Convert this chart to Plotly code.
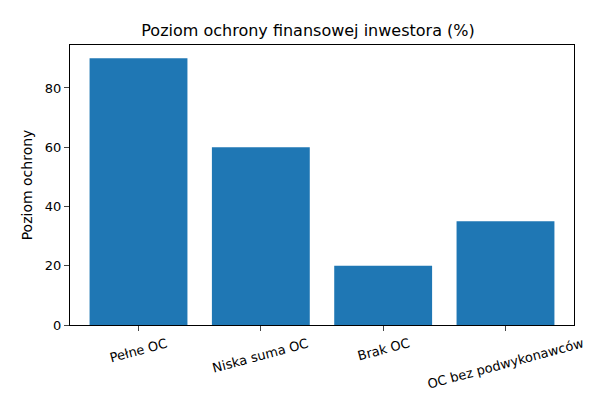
import plotly.graph_objects as go

categories = ["Pełne OC", "Niska suma OC", "Brak OC", "OC bez podwykonawców"]
values = [90, 60, 20, 35]

fig = go.Figure(go.Bar(x=list(range(len(categories))), y=values, marker_color="#1f77b4",
                       marker_line_width=0, width=0.8))
fig.update_layout(
    width=600, height=400, plot_bgcolor="white", paper_bgcolor="white",
    font=dict(family="DejaVu Sans", size=12, color="black"),
    title=dict(text="Poziom ochrony finansowej inwestora (%)", x=0.5, xanchor="center",
               y=0.945, yanchor="middle", font=dict(size=16)),
    margin=dict(l=62, r=34, t=37, b=83), showlegend=False,
)
for i, c in enumerate(categories):
    fig.add_annotation(x=i, y=0, xref="x", yref="paper", text=c, showarrow=False,
                       textangle=-15, xanchor="center", yanchor="top", yshift=-8,
                       font=dict(size=13))
fig.update_xaxes(range=[-0.56, 3.56], tickvals=list(range(len(categories))), showticklabels=False,
                 showline=True, linecolor="black", mirror=True, ticks="outside",
                 showgrid=False, zeroline=False, automargin=False)
fig.update_yaxes(range=[0, 94.5], tickvals=[0, 20, 40, 60, 80], title_text="Poziom ochrony",
                 title_standoff=8, showline=True, linecolor="black", mirror=True, ticks="outside",
                 showgrid=False, zeroline=False, automargin=False, tickfont=dict(size=13))
fig.write_html("out.html")
